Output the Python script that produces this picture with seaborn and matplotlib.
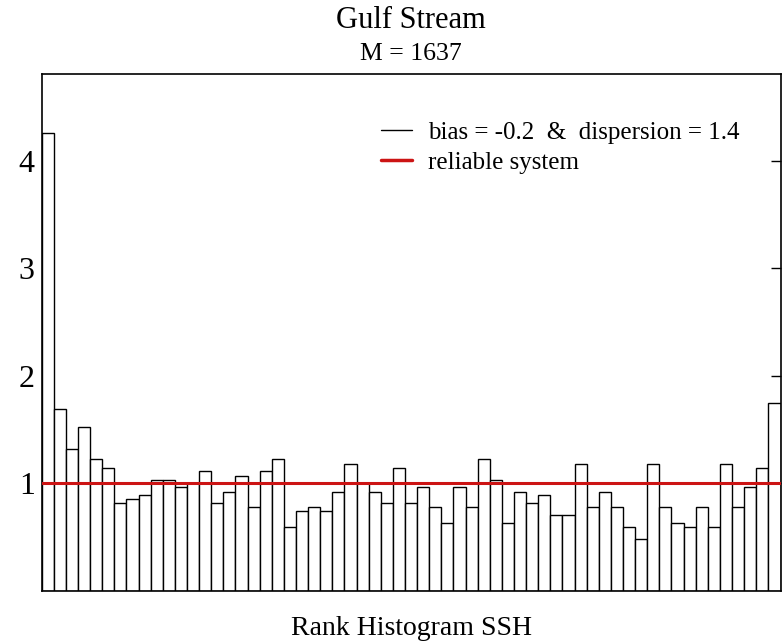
import matplotlib
matplotlib.use("Agg")
import matplotlib.pyplot as plt
from matplotlib.lines import Line2D
import seaborn as sns
import pandas as pd

# ---- data ----
ranks = list(range(1, 62))
freq = [4.26, 1.69, 1.32, 1.52, 1.22, 1.14, 0.81, 0.85, 0.885, 1.03,
        1.03, 0.96, 1.00, 1.11, 0.81, 0.92, 1.065, 0.78, 1.11, 1.22,
        0.59, 0.74, 0.78, 0.74, 0.92, 1.18, 1.00, 0.92, 0.81, 1.14,
        0.81, 0.96, 0.78, 0.63, 0.96, 0.78, 1.22, 1.03, 0.63, 0.92,
        0.81, 0.885, 0.70, 0.70, 1.18, 0.78, 0.92, 0.78, 0.59, 0.48,
        1.18, 0.78, 0.63, 0.59, 0.78, 0.59, 1.18, 0.78, 0.96, 1.14, 1.74]
reliable_level = 1.0
yticks = [1, 2, 3, 4]
title = "Gulf Stream"
subtitle = "M = 1637"
xlabel = "Rank Histogram SSH"
legend_labels = ["bias = -0.2  &  dispersion = 1.4", "reliable system"]

df = pd.DataFrame({"rank": ranks, "freq": freq})

sns.set_theme(style="white")
plt.rcParams["font.family"] = ["Liberation Serif", "DejaVu Serif"]
plt.rcParams["text.color"] = "black"
plt.rcParams["ytick.labelcolor"] = "black"

fig = plt.figure(figsize=(7.83, 6.42), dpi=100)
W, H = 783, 642
left, right, top, bottom = 41.7, 780.5, 73.5, 590.5
ax = fig.add_axes([left / W, 1 - bottom / H, (right - left) / W, (bottom - top) / H])

red = "#cc1414"
sns.barplot(data=df, x="rank", y="freq", ax=ax, color="white",
            edgecolor="black", linewidth=1.0, width=1.0, saturation=1)
ax.axhline(reliable_level, color=red, lw=2.2, zorder=5)

ax.set_xlim(-0.5, len(ranks) - 0.5)
ax.set_ylim(0, 4.81)
ax.set_xticks([])
ax.set_yticks(yticks)
ax.set_yticklabels([str(t) for t in yticks], fontsize=23, color="black")
ax.tick_params(axis="y", direction="in", length=7, width=1, color="black",
               left=True, right=True, labelleft=True, labelright=False, pad=5)
ax.set_xlabel("")
ax.set_ylabel("")
for s in ax.spines.values():
    s.set_visible(True)
    s.set_color("black")
    s.set_linewidth(1.2)

cx = (left + right) / (2 * W)
fig.text(cx, 1 - 28 / H, title, ha="center", va="baseline", fontsize=22, color="black")
fig.text(cx, 1 - 60 / H, subtitle, ha="center", va="baseline", fontsize=18.5, color="black")
fig.text(cx, 1 - 635 / H, xlabel, ha="center", va="baseline", fontsize=20, color="black")

handles = [Line2D([], [], color="black", lw=1.0),
           Line2D([], [], color=red, lw=2.5)]
leg = ax.legend(handles, legend_labels, loc="upper left",
                bbox_to_anchor=((381 - left) / (right - left), (bottom - 121) / (bottom - top)),
                frameon=False, fontsize=18, borderpad=0, borderaxespad=0,
                handlelength=1.25, handletextpad=0.65, labelspacing=0.3)
for t in leg.get_texts():
    t.set_color("black")

fig.savefig("out.png", dpi=100)
